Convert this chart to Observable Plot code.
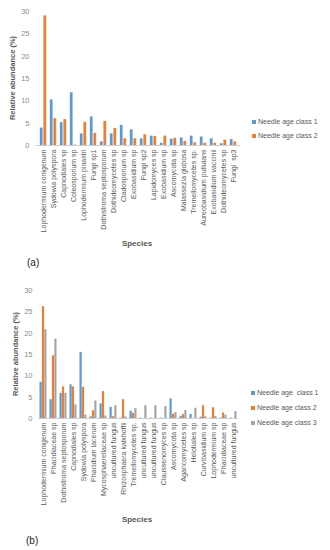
<!DOCTYPE html>
<html><head><meta charset="utf-8">
<script src="https://cdn.jsdelivr.net/npm/d3@7"></script>
<script src="https://cdn.jsdelivr.net/npm/@observablehq/plot@0.6"></script>
<style>
body{margin:0;background:#fff;font-family:"Liberation Sans",Arial,sans-serif;}
#wrap{position:relative;width:330px;height:550px;overflow:hidden;background:#fff}
.abs{position:absolute;white-space:nowrap}
.ytitle{font-size:7.5px;font-weight:bold;color:#595959;transform:translate(-50%,-50%) rotate(-90deg)}
.xtitle{font-size:8px;font-weight:bold;color:#595959;transform:translate(-50%,-50%)}
.cap{font-size:10px;color:#222}
.leg{font-size:7px;color:#595959;line-height:7px}
.leg i{display:inline-block;width:4px;height:4px;margin-right:2px;vertical-align:0px}
</style></head><body><div id="wrap"></div>
<script>
// ---- data (a) ----
const speciesA = ["Lophodermium conigenum","Sydowia polyspora","Capnodiales sp","Coleosporium sp","Lophodermium pinastri","Fungi sp1","Dothistroma septosporum","Dothideomycetes sp","Cladosporium sp","Exobasidium sp","Fungi sp2","Lapidomyces sp","Exobasidium sp","Ascomycota sp","Malassezia globosa","Tremellomycetes sp.","Aureobasidium pullulans","Exobasidium vaccinii","Dothideomycetes sp","Fungi  sp3"];
const class1A = [3.9,10.2,5.1,11.8,2.6,6.4,0.8,2.6,4.5,3.5,1.5,2.1,0.5,1.4,1.7,2.1,1.9,1.5,0.4,1.3];
const class2A = [29.0,6.0,5.8,0.1,5.2,2.7,5.4,3.8,1.5,1.5,2.4,2.0,2.1,1.6,0.9,0.6,0.5,0.5,1.2,0.8];
const seriesA = ["Needle age class 1","Needle age class 2"];
// ---- data (b) ----
const speciesB = ["Lophodermium conigenum","Phacidiaceae sp","Dothistroma septosporum","Capnodiales sp","Sydowia polyspora","Phacidium lacerum","Mycosphaerellaceae sp","uncultured fungus","Rhizosphaera kalkhoffii","Tremellomycetes sp.","uncultured fungus","uncultured fungus","Claussenomyces sp","Ascomycota sp","Agaricomycetes sp","Helotiales sp","Curvibasidium sp","Lophodermium sp","Phacidiaceae sp","uncultured fungus"];
const class1B = [8.5,4.4,5.9,7.9,15.5,0.4,3.4,2.6,0.1,1.7,0.1,0.1,0.1,4.6,0.5,1.0,0.3,0.1,0.1,0.1];
const class2B = [26.2,14.7,7.4,7.4,7.3,1.8,6.3,0.4,4.4,1.2,0,0,0,1.0,0.9,0,3.0,2.5,1.3,0];
const class3B = [20.8,18.6,5.9,3.2,0.8,4.1,0.6,3.0,0.4,2.3,3.0,3.0,2.8,1.4,1.9,2.4,0.4,0.5,0.8,1.6];
const seriesB = ["Needle age  class 1","Needle age class 2","Needle age class 3"];
const yTicks = [0,5,10,15,20,25,30];
const colors = ["#5B9BD5","#ED7D31","#A5A5A5"];

const wrap = document.getElementById("wrap");
function add(html, cls, left, top){const d=document.createElement("div");d.className="abs "+cls;d.style.left=left+"px";d.style.top=top+"px";d.innerHTML=html;wrap.appendChild(d);return d;}

function chart(species, values, o){
  const idx = species.map((_, i) => i);
  const bw = (330 - o.ml - o.mr) / species.length;
  const inset = (bw - o.barW) / 2;
  const n = values.length;
  const marks = [];
  values.forEach((vals, s) => {
    marks.push(Plot.barY(idx, {x: i => i, y: i => vals[i], fill: colors[s], dx: (s - (n - 1) / 2) * o.step, insetLeft: inset, insetRight: inset}));
  });
  marks.push(Plot.ruleY([0], {stroke: "#d0d0d0"}));
  marks.push(Plot.axisX({tickFormat: i => species[i], tickRotate: -90, tickSize: 0, tickPadding: 4, fontSize: 7, label: null, fill: "#595959"}));
  marks.push(Plot.axisY({ticks: yTicks, tickSize: 0, tickPadding: 6, fontSize: 7.5, label: null, fill: "#8c8c8c"}));
  const svg = Plot.plot({
    width: 330, height: o.height,
    marginTop: o.mt, marginBottom: o.mb, marginLeft: o.ml, marginRight: o.mr,
    style: {fontFamily: "Liberation Sans, Arial, sans-serif", background: "transparent"},
    x: {type: "band", domain: idx, padding: 0},
    y: {domain: [0, 30]},
    marks
  });
  svg.style.position = "absolute";
  svg.style.left = "0px";
  svg.style.top = o.top + "px";
  wrap.appendChild(svg);
}

chart(speciesA, [class1A, class2A], {top: 0, height: 270, mt: 11, mb: 125, ml: 35, mr: 90, barW: 3, step: 3.6});
chart(speciesB, [class1B, class2B, class3B], {top: 275, height: 275, mt: 15, mb: 132, ml: 38, mr: 92, barW: 2.2, step: 2.4});

// titles
add("Relative abundance (%)", "ytitle", 12, 78);
add("Species", "xtitle", 137, 243);
add("(a)", "cap", 27, 257);
add("Relative abundance (%)", "ytitle", 15, 354);
add("Species", "xtitle", 137, 519);
add("(b)", "cap", 26, 535);

// legends
seriesA.forEach((s, k) => add(`<i style="background:${colors[k]}"></i>${s.replace(/  /g, "&nbsp; ")}`, "leg", 252, 118 + k * 14));
seriesB.forEach((s, k) => add(`<i style="background:${colors[k]}"></i>${s.replace(/  /g, "&nbsp; ")}`, "leg", 251, 389 + k * 15));
</script></body></html>
